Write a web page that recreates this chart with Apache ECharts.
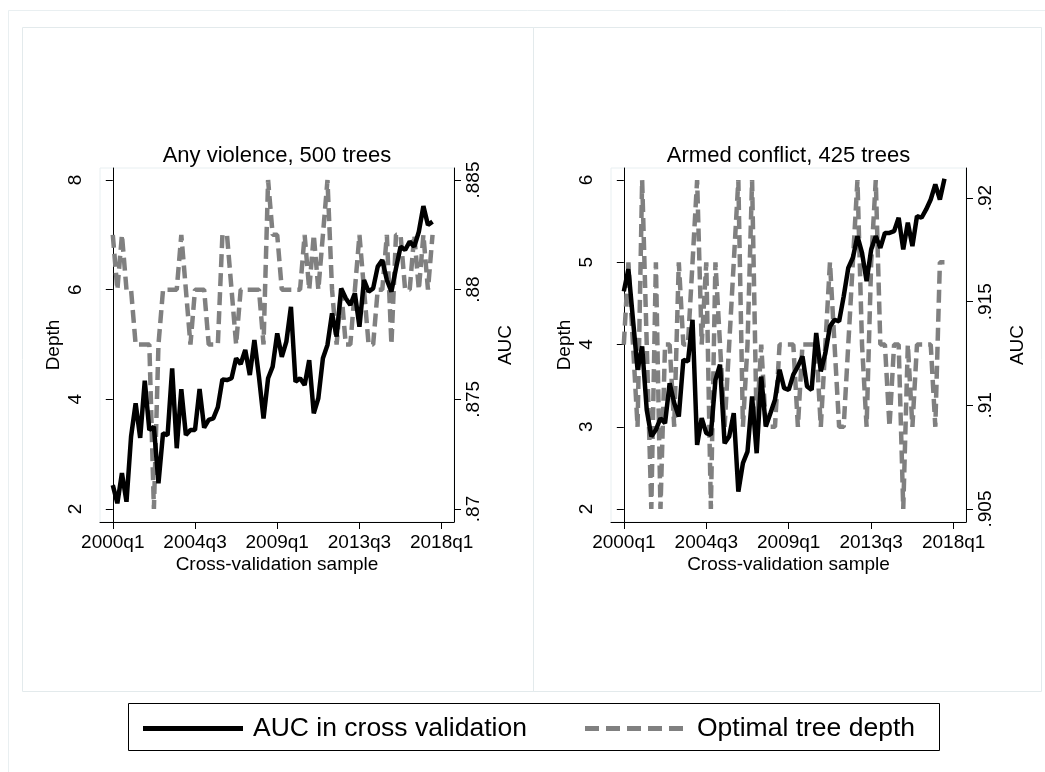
<!DOCTYPE html>
<html><head><meta charset="utf-8">
<script src="https://cdn.jsdelivr.net/npm/echarts@6/dist/echarts.min.js"></script>
<style>html,body{margin:0;padding:0;background:#fff}#c{width:1045px;height:772px}</style>
</head><body><div id="c"></div>
<script>
// x = quarter index since 2000q1
const quarterTicks = [0, 18, 36, 54, 72];
const quarterTickLabels = ['2000q1', '2004q3', '2009q1', '2013q3', '2018q1'];

const depthTicksViolence = [2, 4, 6, 8];
const aucTicksViolence = [0.87, 0.875, 0.88, 0.885];
const aucTickLabelsViolence = ['.87', '.875', '.88', '.885'];
const depthTicksConflict = [2, 3, 4, 5, 6];
const aucTicksConflict = [0.905, 0.91, 0.915, 0.92];
const aucTickLabelsConflict = ['.905', '.91', '.915', '.92'];

const panelTitles = ['Any violence, 500 trees', 'Armed conflict, 425 trees'];
const seriesNames = ['AUC in cross validation', 'Optimal tree depth'];

const aucViolence = [
  .87109, .87026, .87164, .87033, .87330, .87482, .87324, .87585, .87360, .87375,
  .87117, .87345, .87337, .87641, .87277, .87546, .87337, .87360, .87360, .87547,
  .87371, .87406, .87413, .87464, .87591, .87588, .87596, .87687, .87661, .87725,
  .87611, .87770, .87603, .87413, .87596, .87649, .87801, .87694, .87763, .87922,
  .87580, .87596, .87565, .87679, .87436, .87505, .87687, .87748, .87892, .87786,
  .88006, .87961, .87930, .87983, .87831, .88044, .87991, .88006, .88105, .88135,
  .88044, .87991, .88097, .88196, .88181, .88219, .88196, .88264, .88381, .88295,
  .88310
];
const depthViolence = [
  7, 6, 7, 6, 6, 5, 5, 5, 5, 2,
  5, 6, 6, 6, 6, 7, 6, 5, 6, 6,
  6, 5, 5, 5, 7, 7, 6, 5, 6, 6,
  6, 6, 6, 5, 8, 7, 7, 6, 6, 6,
  6, 6, 7, 6, 7, 6, 7, 8, 6, 5,
  6, 5, 5, 6, 7, 6, 5, 5, 6, 6,
  7, 5, 7, 7, 6, 6, 7, 6, 7, 6,
  7
];
const aucConflict = [
  .91550, .91658, .91413, .91172, .91284, .90978, .90850, .90882, .90938, .90914,
  .91107, .91011, .90946, .91220, .91212, .91413, .90809, .90938, .90866, .90858,
  .91123, .91196, .90817, .90850, .90962, .90584, .90721, .90777, .91043, .90769,
  .91139, .90898, .90962, .91027, .91172, .91083, .91075, .91148, .91188, .91236,
  .91091, .91075, .91349, .91164, .91252, .91381, .91413, .91405, .91526, .91663,
  .91712, .91816, .91736, .91599, .91752, .91816, .91760, .91832, .91832, .91840,
  .91905, .91752, .91881, .91768, .91913, .91905, .91945, .91993, .92066, .91993,
  .92093
];
const depthConflict = [
  4, 5, 4, 3, 6, 4, 2, 5, 2, 4,
  4, 3, 5, 4, 4, 5, 6, 4, 5, 2,
  5, 4, 3, 4, 5, 6, 3, 4, 6, 3,
  4, 3, 3, 3, 4, 4, 4, 4, 3, 4,
  4, 4, 4, 3, 4, 5, 4, 3, 3, 4,
  5, 6, 4, 3, 5, 6, 4, 4, 3, 4,
  4, 2, 4, 3, 4, 4, 4, 4, 3, 5,
  5
];

const FONT = 'Liberation Sans';
const pairs = arr => arr.map((v, i) => [i, v]);
const labelFrom = (ticks, labels) => v => {
  let best = 0;
  for (let i = 1; i < ticks.length; i++) if (Math.abs(ticks[i] - v) < Math.abs(ticks[best] - v)) best = i;
  return labels[best];
};

const grids = [
  {left: 100, top: 168, width: 354, height: 354},
  {left: 611, top: 168, width: 355, height: 354}
];
const yRanges = [
  {dmin: 1.7629, dmax: 8.2188, amin: 0.869407, amax: 0.885547},
  {dmin: 1.842, dmax: 6.1459, amin: 0.904373, amax: 0.92145}
];
const depthTicks = [depthTicksViolence, depthTicksConflict];
const aucTicks = [aucTicksViolence, aucTicksConflict];
const aucLabels = [aucTickLabelsViolence, aucTickLabelsConflict];
const aucData = [aucViolence, aucConflict];
const depthData = [depthViolence, depthConflict];

const axisLine = {show: true, lineStyle: {color: '#000', width: 1}};
const txt = {color: '#000', fontFamily: FONT, fontSize: 19};

const xAxis = [], yAxis = [], series = [], title = [];
[0, 1].forEach(p => {
  xAxis.push({
    type: 'value', gridIndex: p, min: -2.8, max: 74.7,
    axisLine: axisLine,
    axisTick: {show: true, length: 7, customValues: quarterTicks, lineStyle: {color: '#000'}},
    axisLabel: Object.assign({customValues: quarterTicks, margin: 11,
      formatter: labelFrom(quarterTicks, quarterTickLabels)}, txt),
    splitLine: {show: false},
    name: 'Cross-validation sample', nameLocation: 'middle', nameGap: 33,
    nameTextStyle: txt
  });
  yAxis.push({
    type: 'value', gridIndex: p, position: 'left',
    min: yRanges[p].dmin, max: yRanges[p].dmax,
    axisLine: axisLine,
    axisTick: {show: true, length: 7, customValues: depthTicks[p], lineStyle: {color: '#000'}},
    axisLabel: Object.assign({customValues: depthTicks[p], rotate: 90, margin: 15,
      formatter: v => String(Math.round(v))}, txt),
    splitLine: {show: false},
    name: 'Depth', nameLocation: 'middle', nameGap: 37, nameRotate: 90,
    nameTextStyle: txt
  });
  yAxis.push({
    type: 'value', gridIndex: p, position: 'right',
    min: yRanges[p].amin, max: yRanges[p].amax,
    axisLine: axisLine,
    axisTick: {show: true, length: 7, customValues: aucTicks[p], lineStyle: {color: '#000'}},
    axisLabel: Object.assign({customValues: aucTicks[p], rotate: 90, margin: 10,
      formatter: labelFrom(aucTicks[p], aucLabels[p])}, txt),
    splitLine: {show: false},
    name: 'AUC', nameLocation: 'middle', nameGap: 42, nameRotate: 90,
    nameTextStyle: txt
  });
  series.push({
    name: seriesNames[1], type: 'line', xAxisIndex: p, yAxisIndex: p * 2,
    data: pairs(depthData[p]), symbol: 'none', showSymbol: false, z: 2,
    lineStyle: {color: '#808080', width: 4.5, type: [13, 6]},
    itemStyle: {color: '#808080'}, animation: false
  });
  series.push({
    name: seriesNames[0], type: 'line', xAxisIndex: p, yAxisIndex: p * 2 + 1,
    data: pairs(aucData[p]), symbol: 'none', showSymbol: false, z: 3,
    lineStyle: {color: '#000', width: 4.5},
    itemStyle: {color: '#000'}, animation: false
  });
  title.push({
    text: panelTitles[p], left: grids[p].left + grids[p].width / 2 - 5, top: 140,
    textAlign: 'center',
    textStyle: {color: '#000', fontFamily: FONT, fontSize: 22, fontWeight: 'normal'}
  });
});

const dashIcon = 'path://M0,0h14v5h-14z M21,0h14v5h-14z M42,0h14v5h-14z M63,0h14v5h-14z M84,0h14v5h-14z';
const boxColor = '#e3eaec';
const option = {
  backgroundColor: '#fff',
  animation: false,
  title: title,
  grid: grids.map(g => Object.assign({show: true, borderColor: '#e8eff1', borderWidth: 1, backgroundColor: 'transparent', containLabel: false}, g)),
  xAxis: xAxis,
  yAxis: yAxis,
  series: series,
  legend: [
    {data: [seriesNames[0]], left: 138, top: 710, itemWidth: 100, itemHeight: 5,
     icon: 'path://M0,0 L100,0 L100,5 L0,5 Z',
     itemStyle: {color: '#000'},
     textStyle: {color: '#000', fontFamily: FONT, fontSize: 26.5, padding: [0, 0, 0, 5]}},
    {data: [seriesNames[1]], left: 580, top: 710, itemWidth: 98, itemHeight: 5,
     icon: dashIcon,
     itemStyle: {color: '#808080'},
     textStyle: {color: '#000', fontFamily: FONT, fontSize: 26.5, padding: [0, 0, 0, 9]}}
  ],
  graphic: [
    {type: 'rect', shape: {x: 8.5, y: 10.5, width: 1100, height: 900}, style: {fill: 'none', stroke: '#e9eff1', lineWidth: 1}, z: -10, silent: true},
    {type: 'rect', shape: {x: 22.5, y: 27.5, width: 511, height: 664}, style: {fill: 'none', stroke: boxColor, lineWidth: 1}, z: -10, silent: true},
    {type: 'rect', shape: {x: 533.5, y: 27.5, width: 508, height: 664}, style: {fill: 'none', stroke: boxColor, lineWidth: 1}, z: -10, silent: true},
    {type: 'rect', shape: {x: 128.5, y: 703.5, width: 811, height: 47}, style: {fill: 'none', stroke: '#000', lineWidth: 1}, z: 10, silent: true}
  ]
};
const chart = echarts.init(document.getElementById('c'), null, {renderer: 'canvas'});
chart.setOption(option);
</script></body></html>
